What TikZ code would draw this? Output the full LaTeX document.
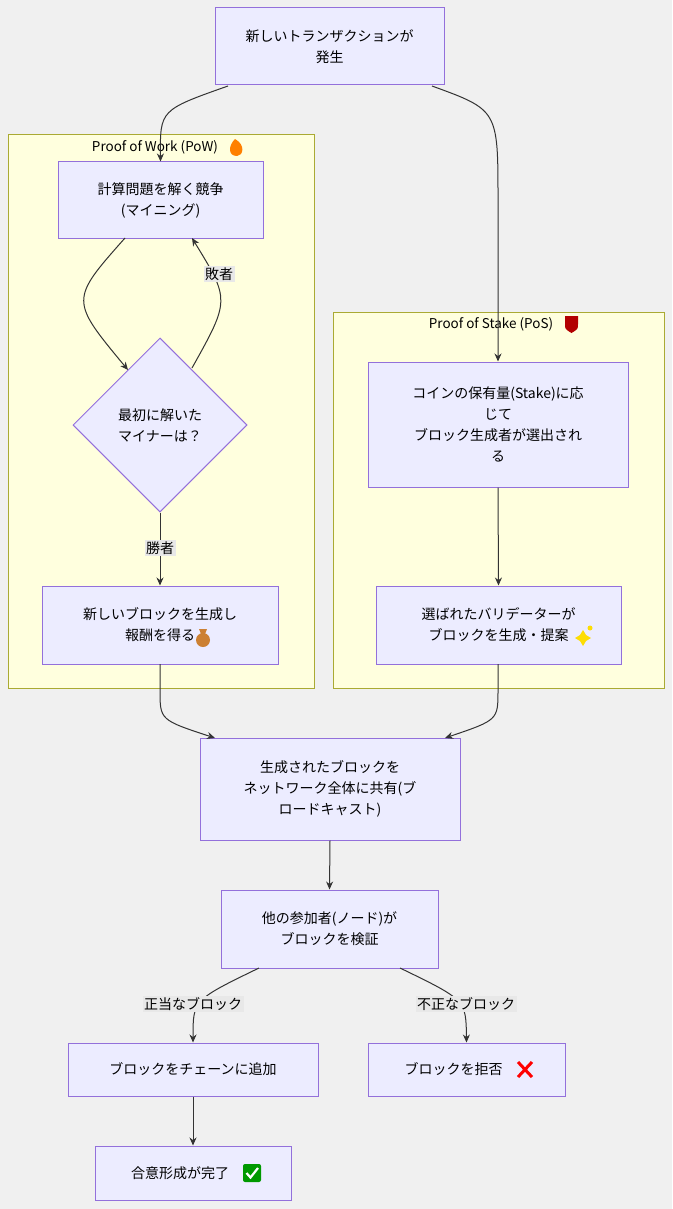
\documentclass[tikz,border=0pt]{standalone}
\usepackage{fontspec}
\setmainfont{Noto Sans CJK JP}
\usetikzlibrary{shapes.geometric,arrows.meta}
\definecolor{bgc}{HTML}{F0F0F0}
\definecolor{nf}{HTML}{ECECFF}
\definecolor{nb}{HTML}{9370DB}
\definecolor{cf}{HTML}{FFFFDE}
\definecolor{cb}{HTML}{AAAA33}
\definecolor{ec}{HTML}{333333}
\definecolor{lb}{HTML}{E8E8E8}
\begin{document}
\begin{tikzpicture}[x=1pt,y=-1pt,
  box/.style={draw=nb,fill=nf,line width=1pt,align=center,font=\fontsize{14}{21}\selectfont,inner sep=0pt},
  dia/.style={draw=nb,fill=nf,line width=1pt,diamond,align=center,font=\fontsize{14}{21}\selectfont,minimum width=174pt,minimum height=174pt,inner sep=0pt},
  clu/.style={draw=cb,fill=cf,line width=1pt},
  ttl/.style={font=\fontsize{13.5}{16}\selectfont},
  lab/.style={fill=lb,font=\fontsize{14}{16}\selectfont,inner sep=1.5pt},
  arr/.style={draw=ec,line width=1pt,-{Stealth[length=8pt,width=7pt]}}]
\fill[bgc] (0,0) rectangle (672,1209);
\useasboundingbox (0,0) rectangle (672,1209);
\draw[clu] (8,135) rectangle (314,688);
\draw[clu] (333,312) rectangle (664,688);
\node[ttl] (powt) at (155,147) {Proof of Work (PoW)};
\fill[orange] (235,139) .. controls (246,145) and (243,156) .. (237,156) .. controls (228,156) and (228,146) .. (235,139);
\node[ttl] (post) at (491,324) {Proof of Stake (PoS)};
\fill[red!70!black] (565,316) -- (578,316) -- (578,324) .. controls (578,329) .. (571.5,333) .. controls (565,329) .. (565,324) -- cycle;
\node[box,minimum width=229pt,minimum height=77pt] (tx) at (329.5,46.5) {新しいトランザクションが\\発生};
\node[box,minimum width=205pt,minimum height=76pt] (pz) at (160.5,200) {計算問題を解く競争\\(マイニング)};
\node[dia] (q) at (160,425) {最初に解いた\\マイナーは？};
\node[box,minimum width=236pt,minimum height=78pt] (nb) at (160,625) {新しいブロックを生成し\\報酬を得る\hspace{26pt}};
\fill[brown!80!orange] (203,640) circle (7pt);
\fill[brown!80!orange] (199,629) -- (207,629) -- (205,634) -- (201,634) -- cycle;
\node[box,minimum width=260pt,minimum height=125pt] (coin) at (498,424.5) {コインの保有量(Stake)に応\\じて\\ブロック生成者が選出され\\る};
\node[box,minimum width=245pt,minimum height=78pt] (val) at (498.5,625) {選ばれたバリデーターが\\ブロックを生成・提案\hspace{24pt}};
\fill[yellow!80!orange] (583,630) -- (586,635) -- (591,638) -- (586,641) -- (583,646) -- (580,641) -- (575,638) -- (580,635) -- cycle;
\fill[yellow!80!orange] (590,628) circle (2.5pt);
\node[box,minimum width=260pt,minimum height=102pt] (bc) at (330,789) {生成されたブロックを\\ネットワーク全体に共有(ブ\\ロードキャスト)};
\node[box,minimum width=217pt,minimum height=78pt] (vf) at (329.5,929) {他の参加者(ノード)が\\ブロックを検証};
\node[box,minimum width=250pt,minimum height=53pt] (ch) at (193,1069.5) {ブロックをチェーンに追加};
\node[box,minimum width=197pt,minimum height=53pt] (rj) at (466.5,1069.5) {ブロックを拒否\hspace{26pt}};
\draw[red,line width=3pt] (518,1062) -- (532,1077) (532,1062) -- (518,1077);
\node[box,minimum width=196pt,minimum height=54pt] (cs) at (193,1173) {合意形成が完了\hspace{26pt}};
\fill[green!60!black,rounded corners=2pt] (243,1164) rectangle (261,1182);
\draw[white,line width=2.2pt] (246.5,1173) -- (250.5,1177.5) -- (258,1168);
% edges
\coordinate (a1) at (228,86);
\draw[arr] (a1) .. controls (160,110) .. (pz.north);
\coordinate (a2) at (432,86);
\draw[arr] (a2) .. controls (498,110) .. (498,200) -- (coin.north);
\coordinate (b1) at (125,238);
\coordinate (b2) at (128,370);
\draw[arr] (b1) .. controls (70,300) .. (b2);
\coordinate (c1) at (192,368);
\coordinate (c2) at (192,238);
\draw[arr] (c1) .. controls (230,300) .. (c2);
\node[lab] (lz) at (219,274) {敗者};
\draw[arr] (q.south) -- (nb.north);
\node[lab] (lw) at (160,548) {勝者};
\coordinate (d1) at (160,664);
\coordinate (d2) at (215,738);
\draw[arr] (d1) -- (160,690) .. controls (160,720) .. (d2);
\draw[arr] (coin.south) -- (val.north);
\coordinate (e1) at (498,664);
\coordinate (e2) at (445,738);
\draw[arr] (e1) -- (498,690) .. controls (498,720) .. (e2);
\draw[arr] (bc.south) -- (vf.north);
\coordinate (f1) at (259,968);
\draw[arr] (f1) .. controls (193,1000) .. (ch.north);
\coordinate (g1) at (400,968);
\draw[arr] (g1) .. controls (466,1000) .. (rj.north);
\node[lab] (l1) at (193,1004) {正当なブロック};
\node[lab] (l2) at (466,1004) {不正なブロック};
\draw[arr] (ch.south) -- (cs.north);
\end{tikzpicture}
\end{document}
